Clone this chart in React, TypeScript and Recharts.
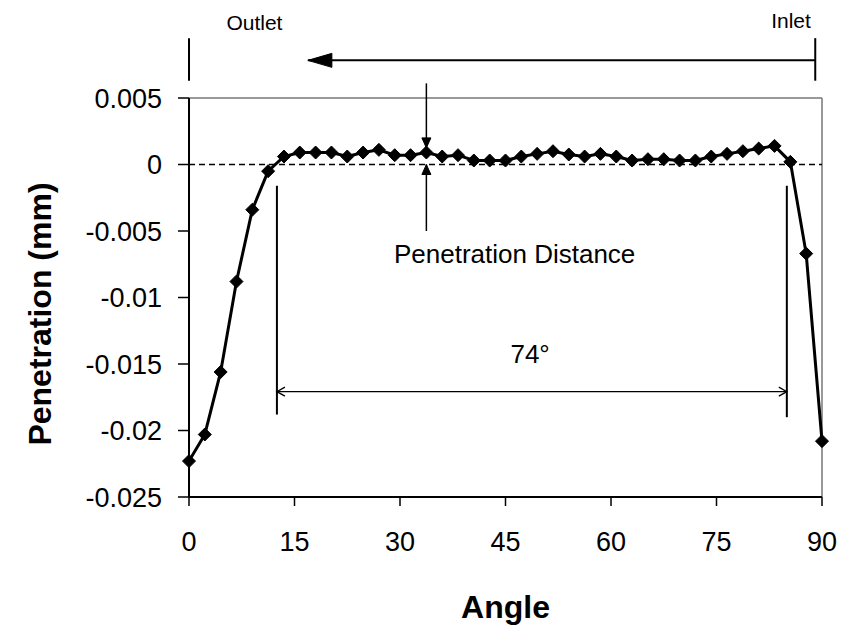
import React from 'react';
import { LineChart, Line, XAxis, YAxis, ReferenceLine } from 'recharts';

// Angle categories (degrees)
const angles = [0, 2.25, 4.5, 6.75, 9, 11.25, 13.5, 15.75, 18, 20.25, 22.5, 24.75, 27, 29.25, 31.5, 33.75, 36, 38.25, 40.5, 42.75, 45, 47.25, 49.5, 51.75, 54, 56.25, 58.5, 60.75, 63, 65.25, 67.5, 69.75, 72, 74.25, 76.5, 78.75, 81, 83.25, 85.5, 87.75, 90];
// Penetration (mm)
const penetration = [-0.0223, -0.0203, -0.0156, -0.0088, -0.0034, -0.0005, 0.0006, 0.0009, 0.0009, 0.0009, 0.0006, 0.0009, 0.0011, 0.0007, 0.0007, 0.0009, 0.0006, 0.0007, 0.0003, 0.0003, 0.0003, 0.0006, 0.0008, 0.001, 0.00075, 0.0006, 0.0008, 0.0006, 0.0003, 0.0004, 0.0004, 0.0003, 0.0003, 0.0006, 0.0008, 0.001, 0.0012, 0.0014, 0.0002, -0.0067, -0.0208];
const xTicks = [0, 15, 30, 45, 60, 75, 90];
const yTicks = [0.005, 0, -0.005, -0.01, -0.015, -0.02, -0.025];
const yTickLabels = ['0.005', '0', '-0.005', '-0.01', '-0.015', '-0.02', '-0.025'];

const data = angles.map((a, i) => ({ angle: a, value: penetration[i] }));

const FONT = '"Liberation Sans", Arial, Helvetica, sans-serif';

const Diamond = (props: any) => {
  const { cx, cy, index } = props;
  if (cx == null || cy == null) return null;
  const r = 6.5;
  return (
    <polygon
      key={`d-${index}`}
      points={`${cx},${cy - r} ${cx + r},${cy} ${cx},${cy + r} ${cx - r},${cy}`}
      fill="#000"
      stroke="#000"
    />
  );
};

type Head = 'filled' | 'open' | null;

const headAt = (tx: number, ty: number, fx: number, fy: number, kind: Head, len: number, half: number, sw: number) => {
  if (!kind) return null;
  const dx = tx - fx;
  const dy = ty - fy;
  const d = Math.sqrt(dx * dx + dy * dy) || 1;
  const ux = dx / d;
  const uy = dy / d;
  const bx = tx - ux * len;
  const by = ty - uy * len;
  const px = -uy * half;
  const py = ux * half;
  if (kind === 'filled') {
    return <polygon points={`${tx},${ty} ${bx + px},${by + py} ${bx - px},${by - py}`} fill="#000" stroke="#000" strokeWidth={1} />;
  }
  return (
    <polyline points={`${bx + px},${by + py} ${tx},${ty} ${bx - px},${by - py}`} fill="none" stroke="#000" strokeWidth={sw} />
  );
};

const arrowShape = (startHead: Head, endHead: Head, sw: number, len: number, half: number) => (props: any) => {
  const { x1, y1, x2, y2 } = props;
  if (x1 == null) return <g />;
  return (
    <g>
      <line x1={x1} y1={y1} x2={x2} y2={y2} stroke="#000" strokeWidth={sw} />
      {headAt(x1, y1, x2, y2, startHead, len, half, sw)}
      {headAt(x2, y2, x1, y1, endHead, len, half, sw)}
    </g>
  );
};

const textShape = (label: string, size: number, weight: string = 'normal') => (props: any) => {
  const { x1, y1 } = props;
  if (x1 == null) return <g />;
  return (
    <text x={x1} y={y1} textAnchor="middle" dominantBaseline="central" fontFamily={FONT} fontSize={size} fontWeight={weight} fill="#000">
      {label}
    </text>
  );
};

const YTick = (props: any) => {
  const { x, y, payload } = props;
  const idx = yTicks.indexOf(payload.value);
  const label = idx >= 0 ? yTickLabels[idx] : String(payload.value);
  return (
    <text x={x} y={y} dy="0.355em" textAnchor="end" fontFamily={FONT} fontSize={27} fill="#000">
      {label}
    </text>
  );
};

const XTick = (props: any) => {
  const { x, y, payload } = props;
  return (
    <text x={x} y={y} dy="0.71em" textAnchor="middle" fontFamily={FONT} fontSize={27} fill="#000">
      {payload.value}
    </text>
  );
};

export default function App() {
  return (
    <div style={{ position: 'absolute', left: 0, top: 0, width: 845, height: 633, background: '#fff' }}>
      <LineChart width={845} height={633} data={data} margin={{ top: 98, right: 23, bottom: 0, left: 0 }}>
        <XAxis
          dataKey="angle"
          type="number"
          domain={[0, 90]}
          ticks={xTicks}
          interval={0}
          height={136}
          axisLine={{ stroke: '#000', strokeWidth: 2 }}
          tickLine={{ stroke: '#000', strokeWidth: 1.5 }}
          tickSize={9}
          tickMargin={26}
          tick={<XTick />}
          label={{
            content: (p: any) => {
              const vb = p.viewBox;
              return (
                <text x={vb.x + vb.width / 2} y={618} textAnchor="middle" fontFamily={FONT} fontSize={32} fontWeight="bold" fill="#000">
                  Angle
                </text>
              );
            },
          }}
        />
        <YAxis
          type="number"
          domain={[-0.025, 0.005]}
          ticks={yTicks}
          interval={0}
          width={189}
          axisLine={{ stroke: '#000', strokeWidth: 2 }}
          tickLine={{ stroke: '#000', strokeWidth: 1.5 }}
          tickSize={11}
          tickMargin={16}
          tick={<YTick />}
          label={{
            content: () => (
              <text
                x={0}
                y={0}
                transform="translate(51, 314) rotate(-90)"
                textAnchor="middle"
                fontFamily={FONT}
                fontSize={32}
                fontWeight="bold"
                fill="#000"
              >
                Penetration (mm)
              </text>
            ),
          }}
        />
        {/* plot frame top / right */}
        <ReferenceLine y={0.005} stroke="#777" strokeWidth={1.5} />
        <ReferenceLine x={90} stroke="#777" strokeWidth={1.5} />
        {/* dashed zero line */}
        <ReferenceLine y={0} stroke="#000" strokeWidth={1.3} strokeDasharray="6 4" />

        {/* Outlet / Inlet markers and flow arrow */}
        <ReferenceLine ifOverflow="visible" segment={[{ x: 0, y: 0.0095 }, { x: 0, y: 0.0063 }]} shape={arrowShape(null, null, 2, 0, 0)} />
        <ReferenceLine ifOverflow="visible" segment={[{ x: 89.04, y: 0.0095 }, { x: 89.04, y: 0.0063 }]} shape={arrowShape(null, null, 2, 0, 0)} />
        <ReferenceLine ifOverflow="visible" segment={[{ x: 89.04, y: 0.00783 }, { x: 16.9, y: 0.00783 }]} shape={arrowShape(null, 'filled', 2, 24, 7)} />
        <ReferenceLine ifOverflow="visible" segment={[{ x: 9.3, y: 0.0107 }, { x: 9.3, y: 0.0107 }]} shape={textShape('Outlet', 21)} />
        <ReferenceLine ifOverflow="visible" segment={[{ x: 85.6, y: 0.0108 }, { x: 85.6, y: 0.0108 }]} shape={textShape('Inlet', 21)} />

        {/* Penetration distance arrows */}
        <ReferenceLine ifOverflow="visible" segment={[{ x: 33.75, y: 0.0061 }, { x: 33.75, y: 0.00125 }]} shape={arrowShape(null, 'filled', 1.5, 10, 4.5)} />
        <ReferenceLine ifOverflow="visible" segment={[{ x: 33.75, y: -0.005 }, { x: 33.75, y: 0 }]} shape={arrowShape(null, 'filled', 1.5, 10, 4.5)} />
        <ReferenceLine ifOverflow="visible" segment={[{ x: 46.3, y: -0.0067 }, { x: 46.3, y: -0.0067 }]} shape={textShape('Penetration Distance', 26)} />

        {/* 74 degree dimension */}
        <ReferenceLine ifOverflow="visible" segment={[{ x: 12.5, y: -0.0016 }, { x: 12.5, y: -0.0188 }]} shape={arrowShape(null, null, 2, 0, 0)} />
        <ReferenceLine ifOverflow="visible" segment={[{ x: 85.0, y: -0.0016 }, { x: 85.0, y: -0.0190 }]} shape={arrowShape(null, null, 2, 0, 0)} />
        <ReferenceLine ifOverflow="visible" segment={[{ x: 12.5, y: -0.01708 }, { x: 85.0, y: -0.01708 }]} shape={arrowShape('open', 'open', 1.3, 8, 4.5)} />
        <ReferenceLine ifOverflow="visible" segment={[{ x: 48.5, y: -0.01425 }, { x: 48.5, y: -0.01425 }]} shape={textShape('74°', 26)} />

        <Line
          type="linear"
          dataKey="value"
          stroke="#000"
          strokeWidth={3}
          dot={<Diamond />}
          activeDot={false}
          isAnimationActive={false}
        />
      </LineChart>
    </div>
  );
}
